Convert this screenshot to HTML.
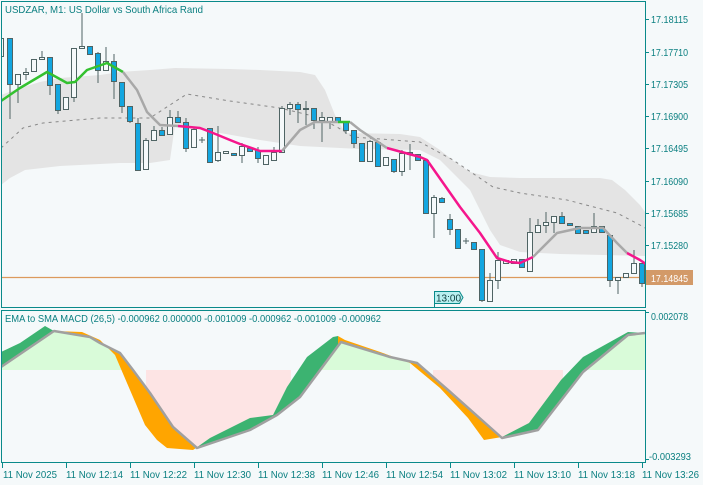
<!DOCTYPE html><html><head><meta charset="utf-8"><style>
html,body{margin:0;padding:0;background:#f5f9fa;}
svg{display:block;font-family:"Liberation Sans",sans-serif;}
text{fill:#0a7f80;font-size:10.5px;}
</style></head><body>
<svg width="703" height="485" viewBox="0 0 703 485" xmlns="http://www.w3.org/2000/svg">
<rect width="703" height="485" fill="#f5f9fa"/>
<defs><clipPath id="cm"><rect x="1" y="2" width="644" height="305"/></clipPath>
<clipPath id="cd"><rect x="1" y="311" width="644" height="152"/></clipPath>
<clipPath id="cg"><rect x="0" y="300" width="54" height="170"/><rect x="195" y="300" width="143" height="170"/><rect x="502" y="300" width="150" height="170"/></clipPath>
<clipPath id="co"><rect x="54" y="300" width="141" height="170"/><rect x="338" y="300" width="164" height="170"/></clipPath>
</defs>
<g clip-path="url(#cm)">
<polygon fill="#e4e4e4" points="1,95 20,88 40,82 60,78 100,75 120,72 150,70 175,68 230,69 260,70 300,72 315,75 325,90 335,115 345,133 400,134 420,137 440,150 455,162 470,172 490,177 520,178 600,178 612,180 625,190 640,205 645,212 645,256 560,254 520,252 500,245 490,230 470,190 440,160 420,150 360,149 320,147 300,146 260,140 220,133 185,125 175,125 170,160 150,163 120,163 60,166 25,170 10,178 1,185"/>
<polyline fill="none" stroke="#888" stroke-width="1" stroke-dasharray="3,4" points="1,148 23,128 43,123 100,118 150,118 173,103 187,94 230,101 280,108 317,117 337,127 353,137 420,142 453,160 493,187 520,193 567,200 617,213 640,225 645,228"/>
<line x1="1" y1="277.5" x2="645" y2="277.5" stroke="#dc9a5c" stroke-width="1.2"/>
<line x1="434.5" y1="297" x2="434.5" y2="308" stroke="#0a8a8a"/>
<g stroke="#4f6464" stroke-width="1">
<path d="M1,38V57M10,38V119M18,74V103M26,68V80M34,59V72M42,51V59M50,57V95M58,84V114M66,97V110M74,48V102M82,13V48M90,46V54M98,52V83M106,47V70M114,54V99M122,82V113M130,106V123M138,118V170M146,138V170M154,126V140M162,127V135M170,110V135M178,111V122M186,118V152M194,127V148M202,137V143M199,140H205M210,128V162M218,126V162M226,151V153M234,153V155M242,143V163M250,148V151M258,147V163M266,155V164M274,147V160M282,106V152M290,102V115M298,102V123M306,101V125M314,108V129M322,112V142M330,117V129M338,117V122M346,122V134M354,130V148M362,143V162M370,140V161M378,142V167M386,157V165M394,159V173M402,150V176M410,144V170M418,154V160M426,160V213M434,195V238M442,197V202M450,214V235M458,229V248M466,238V244M463,241H469M474,242V249M482,249V302M490,273V301M498,252V289M506,260V263M514,259V263M522,259V267M530,218V271M538,219V232M546,212V233M554,216V233M562,212V223M570,223V225M578,226V233M586,230V233M594,213V232M602,226V232M610,235V287M618,277V294M626,273V277M634,250V273M642,263V287"/>
<g fill="#f5f9fa">
<rect x="-1.5" y="38.5" width="5" height="18"/><rect x="15.5" y="74.5" width="5" height="10"/><rect x="23.5" y="72.5" width="5" height="2"/><rect x="31.5" y="59.5" width="5" height="12"/><rect x="39.5" y="57.5" width="5" height="2"/><rect x="63.5" y="97.5" width="5" height="12"/><rect x="71.5" y="48.5" width="5" height="49"/><rect x="79.5" y="46.5" width="5" height="2"/><rect x="103.5" y="61.5" width="5" height="9"/><rect x="143.5" y="140.5" width="5" height="29"/><rect x="151.5" y="130.5" width="5" height="10"/><rect x="167.5" y="117.5" width="5" height="17"/><rect x="191.5" y="129.5" width="5" height="18"/><rect x="215.5" y="152.5" width="5" height="8"/><rect x="223.5" y="151.5" width="5" height="2"/><rect x="239.5" y="146.5" width="5" height="9"/><rect x="263.5" y="155.5" width="5" height="9"/><rect x="271.5" y="152.5" width="5" height="8"/><rect x="279.5" y="108.5" width="5" height="44"/><rect x="287.5" y="104.5" width="5" height="4"/><rect x="303.5" y="108.5" width="5" height="1"/><rect x="319.5" y="117.5" width="5" height="3"/><rect x="327.5" y="117.5" width="5" height="4"/><rect x="367.5" y="141.5" width="5" height="20"/><rect x="383.5" y="157.5" width="5" height="8"/><rect x="399.5" y="153.5" width="5" height="18"/><rect x="431.5" y="197.5" width="5" height="16"/><rect x="487.5" y="280.5" width="5" height="21"/><rect x="495.5" y="260.5" width="5" height="20"/><rect x="503.5" y="260.5" width="5" height="3"/><rect x="511.5" y="259.5" width="5" height="4"/><rect x="527.5" y="232.5" width="5" height="39"/><rect x="535.5" y="225.5" width="5" height="7"/><rect x="543.5" y="222.5" width="5" height="3"/><rect x="551.5" y="216.5" width="5" height="6"/><rect x="591.5" y="226.5" width="5" height="6"/><rect x="615.5" y="277.5" width="5" height="3"/><rect x="623.5" y="273.5" width="5" height="4"/><rect x="631.5" y="263.5" width="5" height="10"/>
</g>
<g fill="#13a6e0">
<rect x="7.5" y="38.5" width="5" height="46"/><rect x="47.5" y="57.5" width="5" height="28"/><rect x="55.5" y="84.5" width="5" height="26"/><rect x="87.5" y="46.5" width="5" height="8"/><rect x="95.5" y="53.5" width="5" height="17"/><rect x="111.5" y="61.5" width="5" height="20"/><rect x="119.5" y="82.5" width="5" height="24"/><rect x="127.5" y="106.5" width="5" height="15"/><rect x="135.5" y="123.5" width="5" height="47"/><rect x="159.5" y="130.5" width="5" height="5"/><rect x="175.5" y="117.5" width="5" height="5"/><rect x="183.5" y="122.5" width="5" height="26"/><rect x="207.5" y="128.5" width="5" height="34"/><rect x="231.5" y="153.5" width="5" height="2"/><rect x="247.5" y="148.5" width="5" height="3"/><rect x="255.5" y="150.5" width="5" height="8"/><rect x="295.5" y="104.5" width="5" height="5"/><rect x="311.5" y="108.5" width="5" height="12"/><rect x="335.5" y="117.5" width="5" height="5"/><rect x="343.5" y="122.5" width="5" height="8"/><rect x="351.5" y="130.5" width="5" height="13"/><rect x="359.5" y="143.5" width="5" height="18"/><rect x="375.5" y="142.5" width="5" height="24"/><rect x="391.5" y="159.5" width="5" height="12"/><rect x="407.5" y="152.5" width="5" height="2"/><rect x="415.5" y="154.5" width="5" height="6"/><rect x="423.5" y="160.5" width="5" height="53"/><rect x="439.5" y="198.5" width="5" height="4"/><rect x="447.5" y="219.5" width="5" height="10"/><rect x="455.5" y="229.5" width="5" height="19"/><rect x="471.5" y="242.5" width="5" height="7"/><rect x="479.5" y="249.5" width="5" height="51"/><rect x="519.5" y="259.5" width="5" height="8"/><rect x="559.5" y="216.5" width="5" height="7"/><rect x="567.5" y="223.5" width="5" height="2"/><rect x="575.5" y="226.5" width="5" height="7"/><rect x="583.5" y="230.5" width="5" height="3"/><rect x="599.5" y="226.5" width="5" height="6"/><rect x="607.5" y="235.5" width="5" height="45"/><rect x="639.5" y="263.5" width="5" height="20"/>
</g></g>
<g fill="none" stroke-width="2.5" stroke-linejoin="round">
<polyline stroke="#33c12f" points="1,101 20,88 47,72 58,78 67,83 75,82 87,70 107,63 123,72"/>
<polyline stroke="#a8a8a8" points="123,72 137,90 147,112 160,125 178,126"/>
<polyline stroke="#f5168c" points="178,126 200,128 213,133 230,140 240,144 260,151 282,151"/>
<polyline stroke="#a8a8a8" points="282,151 300,130 315,122 338,122"/>
<polyline stroke="#33c12f" points="338,122 350,122"/>
<polyline stroke="#a8a8a8" points="350,122 360,130 387,148"/>
<polyline stroke="#f5168c" points="387,148 420,157 427,160 460,207 480,233 497,258 510,262 520,263 533,257"/>
<polyline stroke="#a8a8a8" points="533,257 557,233 580,228 603,228 617,243 627,253"/>
<polyline stroke="#f5168c" points="627,253 640,260 646,264"/>
</g>
</g>
<path d="M434.5,291.5H459.5L463,297.5L459.5,303.5H434.5Z" fill="#b9f0f0" stroke="#0a8a8a"/>
<text x="436" y="301.5" style="font-size:10px;fill:#0b3d3d" textLength="25" lengthAdjust="spacingAndGlyphs">13:00</text>
<rect x="1.5" y="1.5" width="644" height="306" fill="none" stroke="#0a8a8a"/>
<text x="5" y="13" textLength="198" lengthAdjust="spacingAndGlyphs">USDZAR, M1:  US Dollar vs South Africa Rand</text>
<g stroke="#0a8a8a"><path d="M645,19.5h4M645,52.5h4M645,84.5h4M645,116.5h4M645,148.5h4M645,181.5h4M645,213.5h4M645,245.5h4"/></g>
<g>
<text x="651" y="23" textLength="37" lengthAdjust="spacingAndGlyphs">17.18115</text>
<text x="651" y="56" textLength="37" lengthAdjust="spacingAndGlyphs">17.17710</text>
<text x="651" y="88" textLength="37" lengthAdjust="spacingAndGlyphs">17.17305</text>
<text x="651" y="120" textLength="37" lengthAdjust="spacingAndGlyphs">17.16900</text>
<text x="651" y="152" textLength="37" lengthAdjust="spacingAndGlyphs">17.16495</text>
<text x="651" y="185" textLength="37" lengthAdjust="spacingAndGlyphs">17.16090</text>
<text x="651" y="217" textLength="37" lengthAdjust="spacingAndGlyphs">17.15685</text>
<text x="651" y="249" textLength="37" lengthAdjust="spacingAndGlyphs">17.15280</text>
</g>
<rect x="646" y="270" width="47" height="15" fill="#d39a68"/>
<text x="651" y="282" style="fill:#fff" textLength="37" lengthAdjust="spacingAndGlyphs">17.14845</text>
<g clip-path="url(#cd)">
<polygon fill="#d9fbd9" points="2,370 2,367 54,331 90,337 100,343 120,353 122,356 122,370"/>
<polygon fill="#d9fbd9" points="322,370 322,367 341,342 390,357 410,361 410,370"/>
<polygon fill="#d9fbd9" points="585,370 585,369 628,335 645,333 645,370"/>
<polygon fill="#fde4e4" points="146,370 146,388 150,393 173,427 197,448 250,430 277,415 291,404 291,370"/>
<polygon fill="#fde4e4" points="433,370 433,376 448,390 502,438 538,430 563,397 563,370"/>
<g clip-path="url(#cg)"><polygon fill="#3cb371" points="1,352 20,343 45,326 54,331 82,332 100,340 115,355 133,397 145,425 157,440 167,448 193,450 210,438 250,418 273,415 287,387 307,357 333,337 338,336 345,340 383,353 410,363 440,388 468,418 484,440 502,437 529,423 561,380 583,357 628,332 645,333 645,333 628,335 583,372 538,430 502,438 448,390 417,363 390,357 341,342 300,397 277,415 250,430 197,448 173,427 150,393 133,370 120,353 100,343 90,337 54,331 1,367"/></g>
<g clip-path="url(#co)"><polygon fill="#ffa500" points="1,352 20,343 45,326 54,331 82,332 100,340 115,355 133,397 145,425 157,440 167,448 193,450 210,438 250,418 273,415 287,387 307,357 333,337 338,336 345,340 383,353 410,363 440,388 468,418 484,440 502,437 529,423 561,380 583,357 628,332 645,333 645,333 628,335 583,372 538,430 502,438 448,390 417,363 390,357 341,342 300,397 277,415 250,430 197,448 173,427 150,393 133,370 120,353 100,343 90,337 54,331 1,367"/></g>
<polyline fill="none" stroke="#a0a0a0" stroke-width="2.5" stroke-linejoin="round" points="1,367 54,331 90,337 100,343 120,353 133,370 150,393 173,427 197,448 250,430 277,415 300,397 341,342 390,357 417,363 448,390 502,438 538,430 583,372 628,335 645,333"/>
</g>
<rect x="1.5" y="310.5" width="644" height="152" fill="none" stroke="#0a8a8a"/>
<text x="5" y="322" textLength="376" lengthAdjust="spacingAndGlyphs">EMA to SMA MACD (26,5) -0.000962 0.000000 -0.001009 -0.000962 -0.001009 -0.000962</text>
<path d="M645,312.5h4M645,459.5h4" stroke="#0a8a8a"/>
<text x="651" y="320" textLength="37" lengthAdjust="spacingAndGlyphs">0.002078</text>
<text x="649" y="460" textLength="42" lengthAdjust="spacingAndGlyphs">-0.003293</text>
<path d="M2.5,463v5M66.5,463v5M130.5,463v5M194.5,463v5M258.5,463v5M322.5,463v5M386.5,463v5M450.5,463v5M514.5,463v5M578.5,463v5M642.5,463v5" stroke="#0a8a8a"/>
<g>
<text x="3" y="478" textLength="54" lengthAdjust="spacingAndGlyphs">11 Nov 2025</text>
<text x="66" y="478" textLength="57" lengthAdjust="spacingAndGlyphs">11 Nov 12:14</text>
<text x="130" y="478" textLength="57" lengthAdjust="spacingAndGlyphs">11 Nov 12:22</text>
<text x="194" y="478" textLength="57" lengthAdjust="spacingAndGlyphs">11 Nov 12:30</text>
<text x="258" y="478" textLength="57" lengthAdjust="spacingAndGlyphs">11 Nov 12:38</text>
<text x="322" y="478" textLength="57" lengthAdjust="spacingAndGlyphs">11 Nov 12:46</text>
<text x="386" y="478" textLength="57" lengthAdjust="spacingAndGlyphs">11 Nov 12:54</text>
<text x="450" y="478" textLength="57" lengthAdjust="spacingAndGlyphs">11 Nov 13:02</text>
<text x="514" y="478" textLength="57" lengthAdjust="spacingAndGlyphs">11 Nov 13:10</text>
<text x="578" y="478" textLength="57" lengthAdjust="spacingAndGlyphs">11 Nov 13:18</text>
<text x="642" y="478" textLength="57" lengthAdjust="spacingAndGlyphs">11 Nov 13:26</text>
</g>
</svg>
</body></html>
